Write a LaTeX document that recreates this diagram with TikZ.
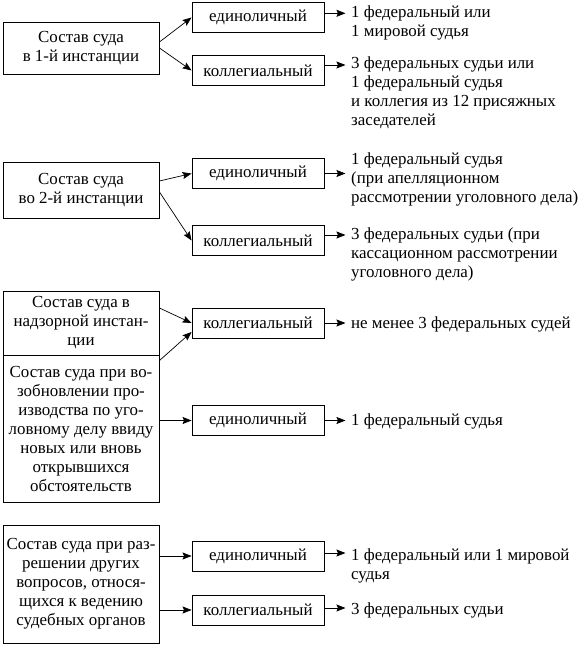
\documentclass[tikz,border=0pt]{standalone}
\usepackage{fontspec}
\setmainfont{Liberation Serif}
\usetikzlibrary{arrows.meta}
\newcommand\dtxt{\fontsize{16.9}{19}\selectfont}
\newcommand\tstr{\rule{0pt}{12pt}}
\begin{document}
\begin{tikzpicture}[x=1pt,y=-1pt,
  lbox/.style={draw,line width=0.9pt,minimum width=156pt,inner sep=0pt,align=center,font=\dtxt},
  mbox/.style={draw,line width=0.9pt,minimum width=132pt,minimum height=30pt,inner sep=0pt,font=\dtxt},
  rtxt/.style={anchor=north west,inner xsep=6pt,inner ysep=0pt,align=left,font=\dtxt},
  arr/.style={line width=0.7pt,-{Stealth[length=9pt,width=7pt,inset=1.5pt]}}]
\useasboundingbox (0,0) rectangle (585,645);

% left boxes
\node[lbox,minimum height=52pt]  (l1) at (81,48)    {Состав суда\\в 1-й инстанции};
\node[lbox,minimum height=56pt]  (l2) at (81,190)   {Состав суда\\во 2-й инстанции};
\node[lbox,minimum height=64pt]  (l3) at (81,323)   {Состав суда в\\надзорной инстан-\\ции};
\node[lbox,minimum height=147pt] (l4) at (81,428.5) {Состав суда при во-\\зобновлении про-\\изводства по уго-\\ловному делу ввиду\\новых или вновь\\открывшихся\\обстоятельств};
\node[lbox,minimum height=118pt] (l5) at (81,584)   {Состав суда при раз-\\решении других\\вопросов, относя-\\щихся к ведению\\судебных органов};

% middle boxes
\node[mbox] (e1) at (258,17.5)  {единоличный};
\node[mbox] (k1) at (258,70.5)  {коллегиальный};
\node[mbox] (e2) at (258,173.5) {единоличный};
\node[mbox] (k2) at (258,240.5) {коллегиальный};
\node[mbox] (k3) at (258,323)   {коллегиальный};
\node[mbox] (e3) at (258,420.5) {единоличный};
\node[mbox] (e4) at (258,556)   {единоличный};
\node[mbox] (k4) at (258,610)   {коллегиальный};

% right texts
\node[rtxt] (t1) at (345,5.3)   {\tstr 1 федеральный или\\1 мировой судья};
\node[rtxt] (t2) at (345,56.3)  {\tstr 3 федеральных судьи или\\1 федеральный судья\\и коллегия из 12 присяжных\\заседателей};
\node[rtxt] (t3) at (345,152.3) {\tstr 1 федеральный судья\\(при апелляционном\\рассмотрении уголовного дела)};
\node[rtxt] (t4) at (345,227)   {\tstr 3 федеральных судьи (при\\кассационном рассмотрении\\уголовного дела)};
\node[rtxt] (t5) at (345,316.3) {\tstr не менее 3 федеральных судей};
\node[rtxt] (t6) at (345,413)   {\tstr 1 федеральный судья};
\node[rtxt] (t7) at (345,548.7) {\tstr 1 федеральный или 1 мировой\\судья};
\node[rtxt] (t8) at (345,602)   {\tstr 3 федеральных судьи};

% left connectors
\draw[arr] ([yshift=6pt]l1.east) -- (e1.west);
\draw[arr] (l1.east) -- (k1.west);
\draw[arr] ([yshift=9pt]l2.east) -- (e2.west);
\draw[arr] ([yshift=-2pt]l2.east) -- (k2.west);
\draw[arr] ([yshift=15pt]l3.east) -- (k3.west);
\draw[arr] ([yshift=-6pt]l4.north east) -- ([yshift=-9pt]k3.west);
\draw[arr] (l4.east |- e3.west) -- (e3.west);
\draw[arr] (l5.east |- e4.west) -- (e4.west);
\draw[arr] (l5.east |- k4.west) -- (k4.west);

% right connectors
\draw[arr] (e1.east) ++(0,-4.2) -- ++(21,0);
\draw[arr] (k1.east) ++(0,-5.5) -- ++(21,0);
\draw[arr] (e2.east) -- ++(21,0);
\draw[arr] (k2.east) ++(0,-5.5) -- ++(21,0);
\draw[arr] (k3.east) -- ++(21,0);
\draw[arr] (e3.east) -- ++(21,0);
\draw[arr] (e4.east) ++(0,-3) -- ++(21,0);
\draw[arr] (k4.east) ++(0,-2) -- ++(21,0);
\end{tikzpicture}
\end{document}
